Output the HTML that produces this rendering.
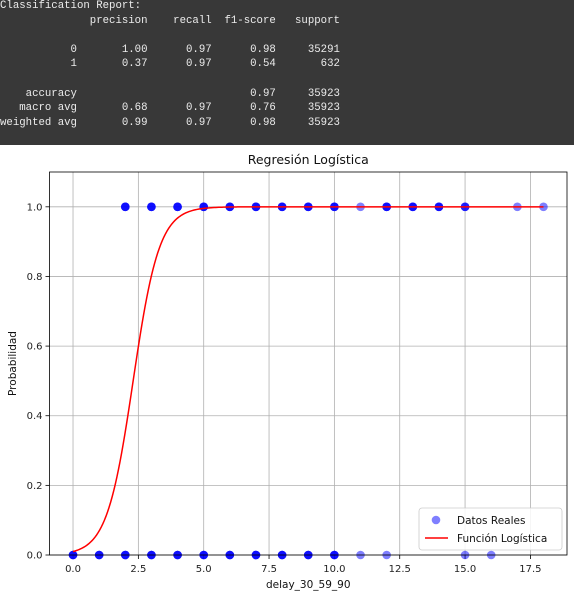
<!DOCTYPE html>
<html><head><meta charset="utf-8"><style>
body{margin:0;width:574px;height:597px;background:#fff;overflow:hidden;font-family:"DejaVu Sans","Liberation Sans",sans-serif}
#term{position:absolute;left:0;top:0;width:574px;height:145px;background:#383838}
#term pre{margin:0;padding:0;position:absolute;left:0;top:-1px;color:#ececec;font-family:"Liberation Mono","DejaVu Sans Mono",monospace;font-size:10.7px;line-height:14.6px}
svg{position:absolute;left:0;top:145px}
</style></head><body>
<div id="term"><pre>Classification Report:
              precision    recall  f1-score   support

           0       1.00      0.97      0.98     35291
           1       0.37      0.97      0.54       632

    accuracy                           0.97     35923
   macro avg       0.68      0.97      0.76     35923
weighted avg       0.99      0.97      0.98     35923</pre></div>
<svg id="chart" width="574" height="452"></svg>
<script>
const xOnes=[2,3,4,5,6,7,8,9,10,11,12,13,14,15,17,18];
const nOnes=[4,4,4,4,4,4,4,4,4,1,4,4,4,3,1,1];
const xZeros=[0,1,2,3,4,5,6,7,8,9,10,11,12,15,16];
const nZeros=[4,4,4,4,4,4,4,4,4,4,4,1,1,1,1];
const coefA=2.0, coefB=-4.6;
const xTicks=[0,2.5,5,7.5,10,12.5,15,17.5];
const xTickLabels=["0.0","2.5","5.0","7.5","10.0","12.5","15.0","17.5"];
const yTicks=[0,0.2,0.4,0.6,0.8,1.0];
const yTickLabels=["0.0","0.2","0.4","0.6","0.8","1.0"];
const NS="http://www.w3.org/2000/svg";
const svg=document.getElementById('chart');
const L=49.5,R=567,T=27,B=410,xmin=-0.9,xmax=18.9,ymin=0,ymax=1.1;
const X=v=>L+(v-xmin)/(xmax-xmin)*(R-L);
const Y=v=>B-(v-ymin)/(ymax-ymin)*(B-T);
function mk(tag,attrs,parent){const e=document.createElementNS(NS,tag);for(const k in attrs)e.setAttribute(k,attrs[k]);(parent||svg).appendChild(e);return e;}
const grid=mk('g',{});


xTicks.forEach((v,i)=>{
  mk('line',{x1:X(v),x2:X(v),y1:T,y2:B,stroke:'#b0b0b0','stroke-width':0.8},grid);
  mk('line',{x1:X(v),x2:X(v),y1:B,y2:B+4,stroke:'#000','stroke-width':0.8});
  const t=mk('text',{x:X(v),y:B+17,'text-anchor':'middle','font-size':10,fill:'#222'});
  t.textContent=xTickLabels[i];
  
  
});
yTicks.forEach((v,i)=>{
  mk('line',{x1:L,x2:R,y1:Y(v),y2:Y(v),stroke:'#b0b0b0','stroke-width':0.8},grid);
  mk('line',{x1:L-4,x2:L,y1:Y(v),y2:Y(v),stroke:'#000','stroke-width':0.8});
  const t=mk('text',{x:L-7,y:Y(v)+3.5,'text-anchor':'end','font-size':10,fill:'#222'});
  t.textContent=yTickLabels[i];
  
  
});
const pts=mk('g',{});


function drawPts(xs,ns,yv){xs.forEach((x,i)=>{for(let k=0;k<ns[i];k++){const c=mk('circle',{cx:X(x),cy:Y(yv),r:4.3,fill:'#0000ff','fill-opacity':0.5},pts);

}});}
drawPts(xOnes,nOnes,1);drawPts(xZeros,nZeros,0);
let d='';for(let i=0;i<=300;i++){const x=i*18/300;const p=1/(1+Math.exp(-(coefA*x+coefB)));d+=(i?'L':'M')+X(x).toFixed(2)+','+Y(p).toFixed(2);}
const ln=mk('path',{d:d,stroke:'#ff0000','stroke-width':1.5,fill:'none'});


mk('rect',{x:L,y:T,width:R-L,height:B-T,fill:'none',stroke:'#000','stroke-width':0.8});
const title=mk('text',{x:(L+R)/2,y:T-8,'text-anchor':'middle','font-size':12.5,fill:'#111'});title.textContent='Regresión Logística';


const xl=mk('text',{x:(L+R)/2,y:B+33,'text-anchor':'middle','font-size':10.5,fill:'#111'});xl.textContent='delay_30_59_90';


const yl=mk('text',{x:0,y:0,'text-anchor':'middle','font-size':10.5,fill:'#111',transform:`translate(16,${(T+B)/2}) rotate(-90)`});yl.textContent='Probabilidad';


const lg=mk('g',{});


mk('rect',{x:419,y:363,width:143,height:42,rx:3,fill:'#fff','fill-opacity':0.85,stroke:'#ccc','stroke-width':0.8},lg);
mk('circle',{cx:436,cy:375,r:4.3,fill:'#0000ff','fill-opacity':0.5},lg);
mk('line',{x1:425,x2:448,y1:393,y2:393,stroke:'#ff0000','stroke-width':1.5},lg);
const l1=mk('text',{x:457,y:379,'font-size':10.5,fill:'#111'},lg);l1.textContent='Datos Reales';


const l2=mk('text',{x:457,y:397,'font-size':10.5,fill:'#111'},lg);l2.textContent='Función Logística';


</script>
</body></html>
